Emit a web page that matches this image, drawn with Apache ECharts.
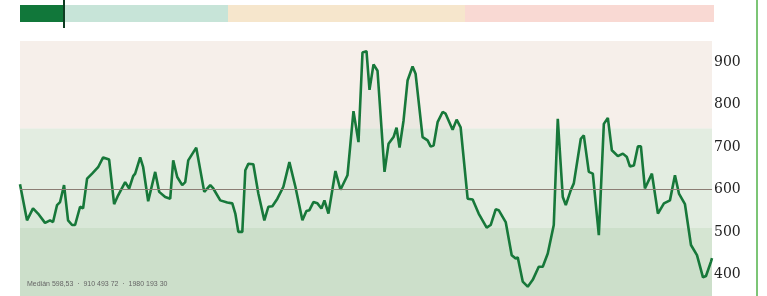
<!DOCTYPE html>
<html>
<head>
<meta charset="utf-8">
<script src="https://cdn.jsdelivr.net/npm/echarts@6/dist/echarts.min.js"></script>
<style>
  html, body { margin: 0; padding: 0; background: #fff; }
  #chart { width: 767px; height: 296px; }
</style>
</head>
<body>
<div id="chart"></div>
<script>
// position along the time axis (weeks-ish) and price
const weeks = [0, 7, 13, 18, 25, 30, 33, 37, 40, 44, 48, 52, 55, 60, 63, 67, 72, 78, 83, 89,
  94, 98, 105, 109, 113, 115, 120, 123, 128, 135, 139, 145, 150, 153, 157, 162, 165, 168, 176, 184,
  190, 193, 200, 207, 212, 215, 218, 222, 225, 228, 233, 238, 244, 248, 252, 257, 263, 269, 275, 282,
  286, 289, 293, 297, 301, 304, 308, 315, 320, 327, 333, 338, 342, 346, 349, 353, 357, 364, 368, 373,
  376, 379, 383, 387, 392, 395, 402, 407, 410, 413, 417, 422, 425, 432, 436, 440, 447, 452, 458, 466,
  470, 475, 478, 485, 491, 495, 497, 502, 507, 512, 518, 522, 527, 533, 537, 542, 545, 550, 553, 560,
  563, 568, 572, 578, 583, 587, 591, 597, 602, 606, 609, 613, 617, 620, 624, 631, 637, 643, 649, 654,
  658, 664, 670, 676, 682, 685, 690, 691]
const prices = [613, 528, 556, 544, 522, 528, 524, 564, 571, 611, 528, 517, 517, 560, 556, 626, 638, 653, 676, 671,
  566, 587, 618, 603, 632, 638, 676, 653, 573, 642, 595, 583, 579, 669, 630, 611, 618, 669, 699, 595,
  611, 603, 575, 570, 568, 544, 501, 501, 646, 661, 660, 591, 528, 560, 561, 579, 607, 665, 607, 528,
  550, 552, 571, 568, 556, 575, 544, 644, 600, 634, 785, 712, 923, 926, 835, 895, 880, 642, 708, 724,
  746, 699, 763, 857, 890, 873, 724, 716, 702, 704, 759, 783, 779, 741, 765, 747, 579, 577, 544, 511,
  517, 554, 552, 524, 446, 438, 441, 384, 372, 388, 419, 419, 450, 517, 767, 583, 564, 599, 615, 720,
  728, 642, 638, 493, 755, 769, 693, 679, 685, 677, 655, 657, 702, 702, 603, 638, 544, 568, 575, 634,
  591, 566, 470, 446, 394, 397, 431, 439]
const median = 600
const bands = [[350, 510], [510, 745], [745, 950]]
const bandColors = ['#d5e5d2', '#e3ede1', '#f6efea']
const scaleBlocks = [[20, 64], [64, 228], [228, 465], [465, 714]]
const scaleColors = ['#11773a', '#c7e4d8', '#f6e6cc', '#f9d9d3']
const footnote = 'Medián 598,53  ·  910 493 72  ·  1980 193 30'

const chart = echarts.init(document.getElementById('chart'))

const lineData = weeks.map((w, i) => [w, prices[i]])

const option = {
  backgroundColor: '#fff',
  animation: false,
  grid: { left: 20, right: 55, top: 41, bottom: 0 },
  xAxis: {
    type: 'value',
    min: 0,
    max: 691,
    show: false
  },
  yAxis: {
    type: 'value',
    position: 'right',
    min: 350,
    max: 950,
    interval: 50,
    splitLine: { show: false },
    axisLine: { show: false },
    axisTick: { show: false },
    axisLabel: {
      margin: 2,
      color: '#222',
      fontSize: 14,
      fontFamily: 'DejaVu Serif',
      formatter: v => (v % 100 === 0 && v < 950 ? v : '')
    }
  },
  series: [
    {
      type: 'line',
      data: lineData,
      showSymbol: false,
      lineStyle: { color: '#17783a', width: 2.6 },
      areaStyle: { color: 'rgba(60,130,70,0.08)', origin: 'start' },
      markArea: {
        silent: true,
        data: bands.map((b, i) => [
          { yAxis: b[0], itemStyle: { color: bandColors[i] } },
          { yAxis: b[1] }
        ])
      },
      markLine: {
        silent: true,
        symbol: 'none',
        label: { show: false },
        lineStyle: { color: '#8c7d74', width: 1, type: 'solid' },
        data: [{ yAxis: median }]
      }
    }
  ],
  graphic: [
    ...scaleBlocks.map((b, i) => ({
      type: 'rect',
      shape: { x: b[0], y: 5, width: b[1] - b[0], height: 17 },
      style: { fill: scaleColors[i] }
    })),
    {
      type: 'rect',
      shape: { x: 63, y: 0, width: 2, height: 28 },
      style: { fill: '#0e3d22' }
    },
    {
      type: 'rect',
      shape: { x: 756, y: 0, width: 2, height: 296 },
      style: { fill: '#7cc576' }
    },
    {
      type: 'text',
      x: 27,
      y: 281,
      z: 100,
      style: { text: footnote, fill: '#666', fontSize: 7, fontFamily: 'Liberation Sans' }
    }
  ]
}

chart.setOption(option)
</script>
</body>
</html>
